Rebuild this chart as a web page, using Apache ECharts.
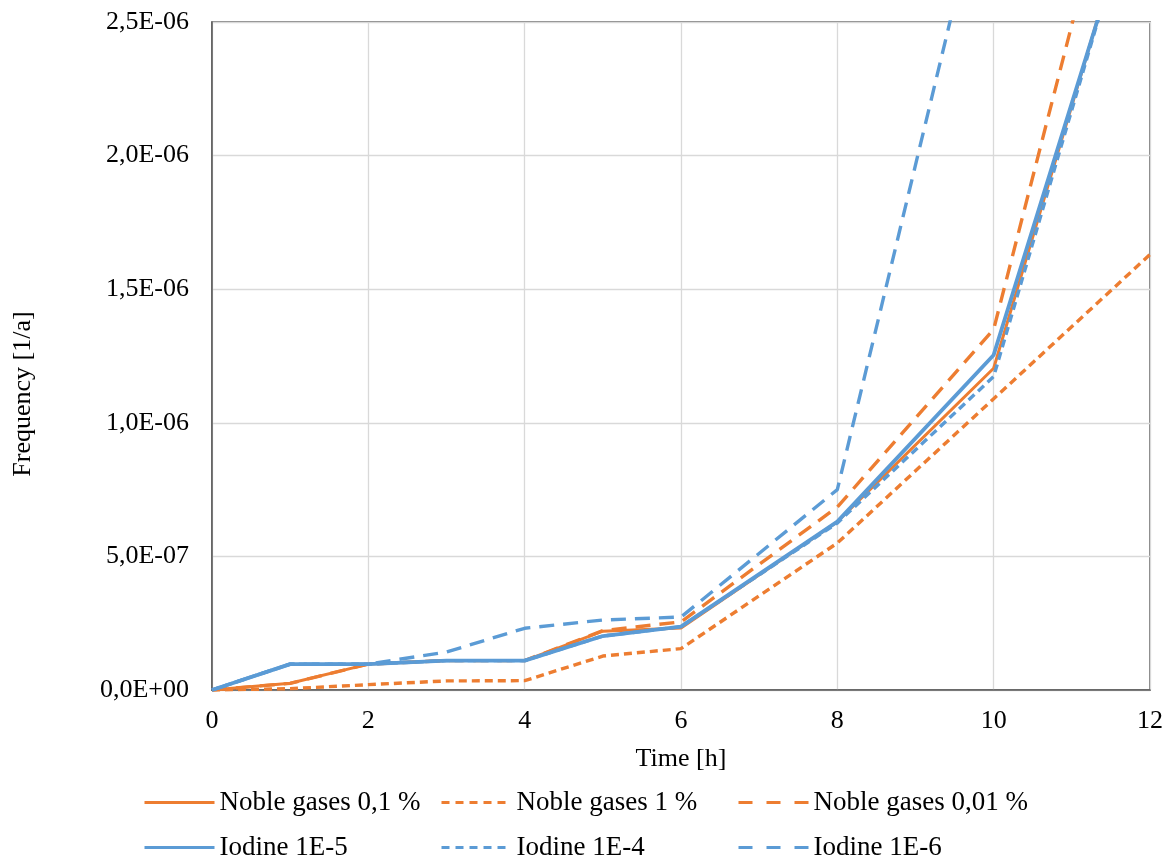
<!DOCTYPE html>
<html>
<head>
<meta charset="utf-8">
<script src="https://cdn.jsdelivr.net/npm/echarts@6/dist/echarts.min.js"></script>
<style>html,body{margin:0;padding:0;background:#fff}#c{width:1171px;height:858px}</style>
</head>
<body>
<div id="c"></div>
<script>
const hours = [0, 1, 2, 3, 4, 5, 6, 8, 10, 12];
const nobleGases01 = [0, 2.5e-8, 9.7e-8, 1.1e-7, 1.1e-7, 2.2e-7, 2.32e-7, 6.3e-7, 1.204e-6, 3.17e-6];
const nobleGases1 = [0, 0.5e-8, 2.0e-8, 3.4e-8, 3.5e-8, 1.27e-7, 1.55e-7, 5.5e-7, 1.09e-6, 1.63e-6];
const nobleGases001 = [0, 2.5e-8, 9.7e-8, 1.1e-7, 1.1e-7, 2.22e-7, 2.55e-7, 6.85e-7, 1.35e-6, 3.63e-6];
const iodine1E5 = [0, 9.7e-8, 9.7e-8, 1.1e-7, 1.1e-7, 2.02e-7, 2.37e-7, 6.3e-7, 1.254e-6, 3.14e-6];
const iodine1E4 = [0, 9.7e-8, 9.7e-8, 1.1e-7, 1.1e-7, 2.02e-7, 2.37e-7, 6.25e-7, 1.173e-6, 3.17e-6];
const iodine1E6 = [0, 9.7e-8, 9.7e-8, 1.42e-7, 2.31e-7, 2.62e-7, 2.73e-7, 7.5e-7, 3.18e-6, 5.6e-6];
const seriesNames = ['Noble gases 0,1 %', 'Noble gases 1 %', 'Noble gases 0,01 %', 'Iodine 1E-5', 'Iodine 1E-4', 'Iodine 1E-6'];

const ORANGE = '#ED7D31', BLUE = '#5B9BD5';
const FONT = 'Liberation Serif';
const FS = 26;

function fmt(v) {
  if (Math.abs(v) < 1e-20) return '0,0E+00';
  const s = v.toExponential(1);
  const parts = s.split('e');
  const n = parseInt(parts[1], 10);
  return parts[0].replace('.', ',') + 'E' + (n < 0 ? '-' : '+') + String(Math.abs(n)).padStart(2, '0');
}
function pairs(arr) { return hours.map((h, i) => [h, arr[i]]); }

const styles = [
  {data: nobleGases01, color: ORANGE, type: 'solid', width: 3, legendType: 'solid'},
  {data: nobleGases1, color: ORANGE, type: [8, 5], width: 3.4, legendType: [8, 6]},
  {data: nobleGases001, color: ORANGE, type: [15, 9], width: 3.4, legendType: [14, 14]},
  {data: iodine1E5, color: BLUE, type: 'solid', width: 3.8, legendType: 'solid'},
  {data: iodine1E4, color: BLUE, type: [8, 5], width: 3.4, legendType: [8, 6]},
  {data: iodine1E6, color: BLUE, type: [15, 9], width: 3.4, legendType: [14, 14]}
];

const series = styles.map((s, i) => ({
  name: seriesNames[i],
  type: 'line',
  data: pairs(s.data),
  symbol: 'none',
  showSymbol: false,
  clip: true,
  color: s.color,
  lineStyle: {color: s.color, type: s.type, width: s.width, cap: 'butt'},
  itemStyle: {color: s.color}
}));

const colLeft = [143, 440, 737];
const rowTop = [789, 834];
const legends = seriesNames.map((n, i) => ({
  data: [n],
  left: colLeft[i % 3],
  top: rowTop[Math.floor(i / 3)],
  padding: 0,
  itemWidth: 70,
  itemHeight: 14,
  itemStyle: {opacity: 0},
  lineStyle: {color: styles[i].color, type: styles[i].legendType, width: 3, opacity: 1},
  textStyle: {fontFamily: FONT, fontSize: 27, color: '#000'},
  selectedMode: false
}));

const chart = echarts.init(document.getElementById('c'));
chart.setOption({
  animation: false,
  backgroundColor: '#fff',
  legend: legends,
  grid: {left: 212, right: 21, top: 22, bottom: 168, show: true, borderColor: '#595959', borderWidth: 1.5, containLabel: false},
  xAxis: {
    type: 'value', min: 0, max: 12, interval: 2,
    name: 'Time [h]', nameLocation: 'middle', nameGap: 56,
    nameTextStyle: {fontFamily: FONT, fontSize: FS, color: '#000'},
    axisLine: {show: true, lineStyle: {color: '#595959', width: 1.5}},
    axisTick: {show: false},
    axisLabel: {fontFamily: FONT, fontSize: FS, color: '#000', margin: 18},
    splitLine: {show: true, lineStyle: {color: '#d9d9d9', width: 1.3}}
  },
  yAxis: {
    type: 'value', min: 0, max: 2.5e-6, interval: 5e-7,
    name: 'Frequency [1/a]', nameLocation: 'middle', nameGap: 176,
    nameTextStyle: {fontFamily: FONT, fontSize: FS, color: '#000', padding: [0, 76, 0, 0]},
    axisLine: {show: true, lineStyle: {color: '#595959', width: 1.5}},
    axisTick: {show: false},
    axisLabel: {fontFamily: FONT, fontSize: FS, color: '#000', margin: 23, formatter: fmt},
    splitLine: {show: true, lineStyle: {color: '#d9d9d9', width: 1.3}}
  },
  series: series
});
</script>
</body>
</html>
